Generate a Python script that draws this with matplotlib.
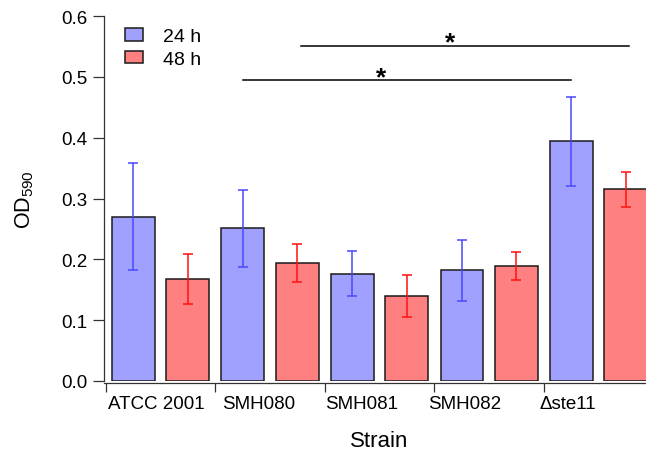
import numpy as np
import matplotlib
matplotlib.use("Agg")
import matplotlib.pyplot as plt

plt.rcParams['font.family'] = ['Liberation Sans', 'DejaVu Sans']
plt.rcParams['mathtext.fontset'] = 'custom'
plt.rcParams['mathtext.rm'] = 'Liberation Sans'
plt.rcParams['mathtext.it'] = 'Liberation Sans:italic'
plt.rcParams['mathtext.bf'] = 'Liberation Sans:bold'

# ---- data ----
categories = ["ATCC 2001", "SMH080", "SMH081", "SMH082", "\u0394ste11"]
series_names = ["24 h", "48 h"]
vals_24h = [0.270, 0.251, 0.176, 0.182, 0.394]
err_24h = [0.088, 0.063, 0.037, 0.050, 0.073]
vals_48h = [0.167, 0.194, 0.140, 0.189, 0.315]
err_48h = [0.041, 0.032, 0.034, 0.023, 0.029]
yticks = [0.0, 0.1, 0.2, 0.3, 0.4, 0.5, 0.6]
# significance brackets: (series index, group from, group to, height, star x)
sig_series = [0, 1]
sig_from = [1, 1]
sig_to = [4, 4]
sig_height = [0.494, 0.551]
sig_star_x = [2.51, 3.14]

bar_colors = ['#a0a0ff', '#ff8080']
err_colors = ['#4848ff', '#ff1010']

W, H = 646, 452
fig = plt.figure(figsize=(W / 100, H / 100), dpi=100)
ax = fig.add_axes([104 / W, 70 / H, 549.5 / W, 365 / H])

n = len(categories)
idx = np.arange(n)
offsets = [0.251, 0.745]
width = 0.392

for s, (vals, errs) in enumerate([(vals_24h, err_24h), (vals_48h, err_48h)]):
    xs = idx + offsets[s]
    ax.bar(xs, vals, width=width, color=bar_colors[s], edgecolor='#1a1a1a',
           linewidth=1.1, label=series_names[s], zorder=2)
    ax.errorbar(xs, vals, yerr=errs, fmt='none', ecolor=err_colors[s],
                elinewidth=1.1, capsize=3.6, capthick=1.1, zorder=3)

for s, g0, g1, h, sx in zip(sig_series, sig_from, sig_to, sig_height, sig_star_x):
    shift = 0.033 if s == 1 else 0.0
    x0 = g0 + offsets[s] + shift
    x1 = g1 + offsets[s] + shift
    ax.plot([x0, x1], [h, h], color='black', linewidth=1.1, zorder=4)
    ax.annotate('*', xy=(sx, h), xytext=(0, -2.5), textcoords='offset points',
                ha='center', va='baseline', fontsize=19, fontweight='bold',
                color='black')

ax.set_xlim(-0.018, 5.0)
ax.set_ylim(0, 0.6)
ax.set_yticks(yticks)
ax.set_yticklabels([f"{t:.1f}" for t in yticks])

# group boundary ticks, small centre ticks, and category labels
ax.set_xticks(np.arange(n + 1))
ax.set_xticklabels([''] * (n + 1))
ax.set_xticks(idx + 0.5, minor=True)
ax.set_xticklabels([''] * n, minor=True)
label_pos = 0.457 + 0.94 * idx
trans = ax.get_xaxis_transform()
for xp, lab in zip(label_pos, categories):
    ax.annotate(lab, xy=(xp, 0), xycoords=trans, xytext=(0, -9.8),
                textcoords='offset points', ha='center', va='top',
                fontsize=13.5, annotation_clip=False)

for sp in ['top', 'right']:
    ax.spines[sp].set_visible(False)
ax.spines['bottom'].set_position(('outward', 1.5))
ax.spines['left'].set_color('#333333')
ax.spines['bottom'].set_color('#333333')
ax.spines['left'].set_linewidth(0.9)
ax.spines['bottom'].set_linewidth(0.9)

ax.tick_params(axis='y', which='major', direction='out', length=8, width=0.9,
               pad=4.0, labelsize=13.5, color='#333333')
ax.tick_params(axis='x', which='major', direction='out', length=6.5, width=0.9,
               color='#333333')
ax.tick_params(axis='x', which='minor', direction='out', length=1.0, width=0.5,
               color='#aaaaaa')

ax.set_ylabel('OD$_{590}$', fontsize=15.5)
ax.yaxis.set_label_coords(-0.123, 0.5)
ax.set_xlabel('Strain', fontsize=16)
ax.xaxis.set_label_coords(0.5, -0.135)

leg = ax.legend(loc='upper left', bbox_to_anchor=(125 / W, 1 - 29 / H),
                bbox_transform=fig.transFigure, frameon=False, fontsize=14,
                borderpad=0, borderaxespad=0, handlelength=0.95, handleheight=0.62,
                handletextpad=1.0, labelspacing=0.28)

fig.savefig('out.png', dpi=100)
